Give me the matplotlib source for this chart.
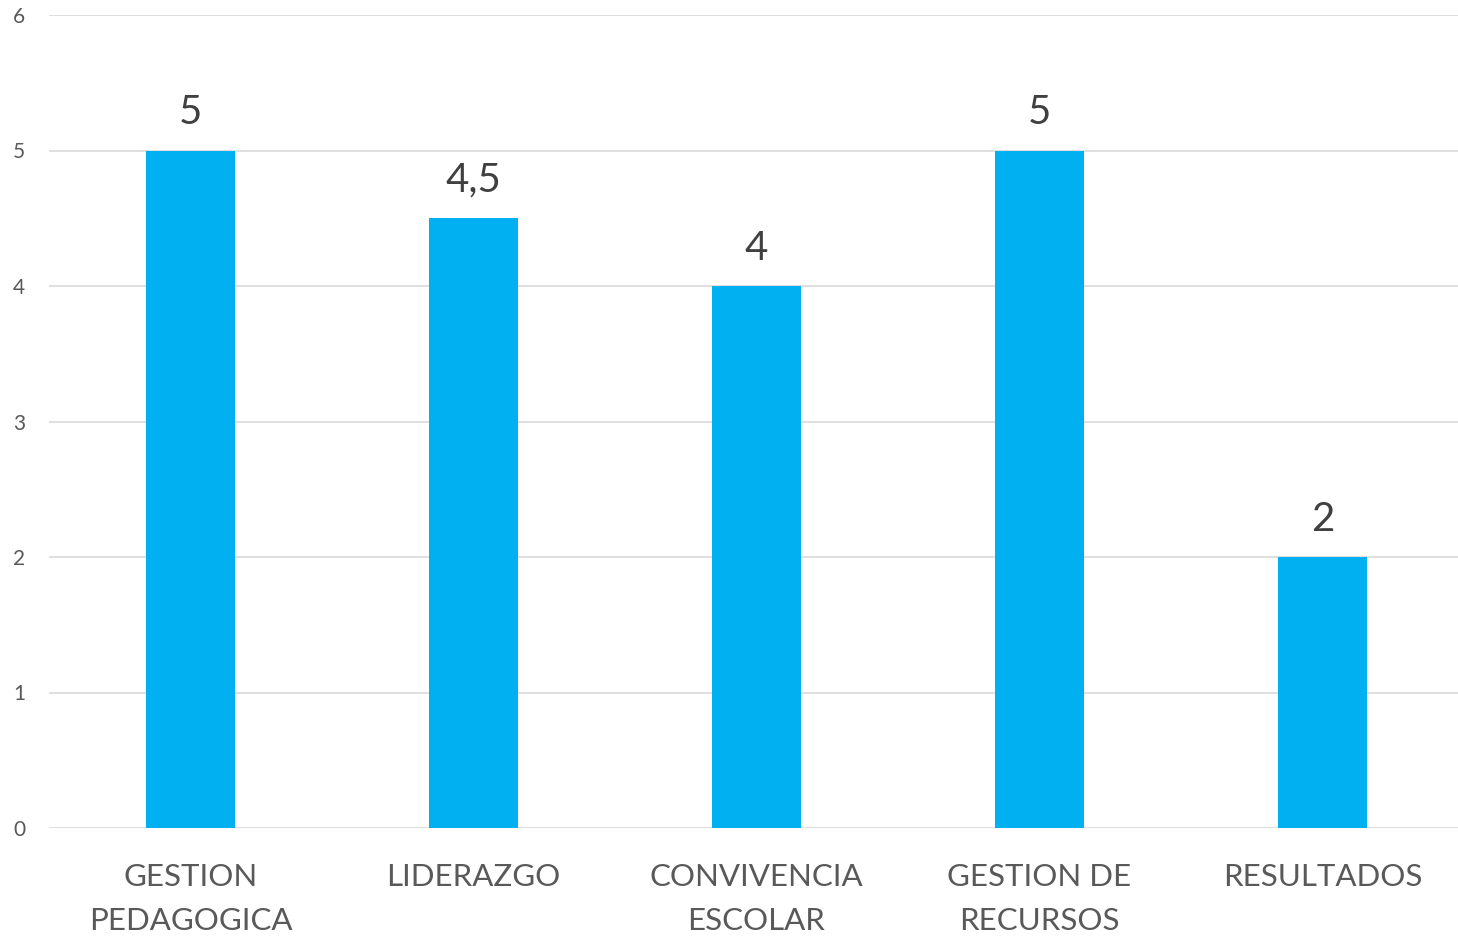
import matplotlib.pyplot as plt

categorias = ["GESTION\nPEDAGOGICA", "LIDERAZGO", "CONVIVENCIA\nESCOLAR", "GESTION DE\nRECURSOS", "RESULTADOS"]
valores = [5, 4.5, 4, 5, 2]
etiquetas = ["5", "4,5", "4", "5", "2"]
y_ticks = [0, 1, 2, 3, 4, 5, 6]

plt.rcParams['font.family'] = ['Lato', 'DejaVu Sans']

fig = plt.figure(figsize=(14.58, 9.39), dpi=100)
ax = fig.add_axes([49 / 1458, 111 / 939, 1415 / 1458, 813 / 939])

x = list(range(len(categorias)))
ax.bar(x, valores, width=0.316, color="#00B0F0", zorder=3)

ax.set_xlim(-0.5, len(categorias) - 0.5)
ax.set_ylim(0, 6)
ax.set_yticks(y_ticks)
ax.set_yticklabels([str(t) for t in y_ticks], fontsize=15, color="#595959")
ax.tick_params(axis='y', length=0, pad=17)
ax.set_xticks([])
ax.grid(axis='y', color="#D9D9D9", linewidth=1.2, zorder=0)
for s in ax.spines.values():
    s.set_visible(False)

# etiquetas de datos
for xi, v, lab in zip(x, valores, etiquetas):
    ax.annotate(lab, (xi, v), xytext=(0, 14), textcoords='offset points',
                ha='center', va='bottom', fontsize=29, color="#404040")

# etiquetas de categorias
for xi, cat in zip(x, categorias):
    ax.annotate(cat, (xi, 0), xytext=(0, -25), textcoords='offset points',
                ha='center', va='top', fontsize=22.5, color="#595959",
                linespacing=1.7, annotation_clip=False)

fig.savefig("out.png", dpi=100)
